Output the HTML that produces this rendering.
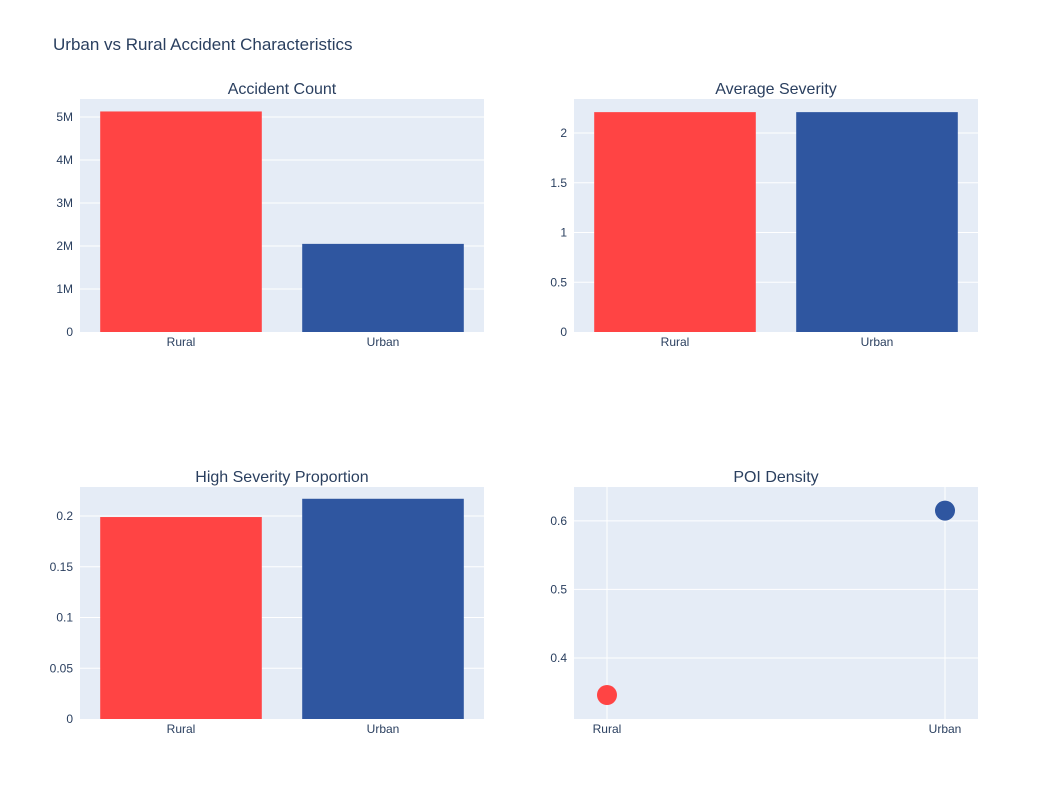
<!DOCTYPE html>
<html><head><meta charset="utf-8"><style>
body{margin:0;background:#fff;font-family:"Liberation Sans",Arial,sans-serif}
svg text{font-family:"Liberation Sans",Arial,sans-serif}
</style></head><body>
<svg id="chart" width="1058" height="800"></svg>
<script>
const categories=["Rural","Urban"];
const accidentCounts=[5130000,2050000];
const avgSeverity=[2.21,2.21];
const highSevProp=[0.199,0.217];
const poiDensity=[0.346,0.615];
const colors=["#ff4444","#2f56a0"];
const countTicks=[0,1e6,2e6,3e6,4e6,5e6];
const countTickLabels=["0","1M","2M","3M","4M","5M"];
const sevTicks=[0,0.5,1,1.5,2];
const sevTickLabels=["0","0.5","1","1.5","2"];
const propTicks=[0,0.05,0.1,0.15,0.2];
const propTickLabels=["0","0.05","0.1","0.15","0.2"];
const poiTicks=[0.4,0.5,0.6];
const poiTickLabels=["0.4","0.5","0.6"];

const svg=document.getElementById('chart');
const NS="http://www.w3.org/2000/svg";
function mk(tag,attrs,parent){const e=document.createElementNS(NS,tag);for(const k in attrs)e.setAttribute(k,attrs[k]);(parent||svg).appendChild(e);return e;}
const title=mk('text',{x:53,y:50,'font-size':17,fill:'#2a3f5f'});
title.textContent="Urban vs Rural Accident Characteristics";



function panel(name,px,py,pw,ph,ymin,ymax,ticks,labels,vals,kind,ttl){
  const g=mk('g',{});
  
  
  const bg=mk('rect',{x:px,y:py,width:pw,height:ph,fill:'#e5ecf6'},g);
  
  
  const ys=v=>py+ph-(v-ymin)/(ymax-ymin)*ph;
  let xs;
  if(kind==='bar'){xs=i=>px+pw*(i+0.5)/categories.length;}
  else{const lo=-0.0976,hi=1.0976;xs=i=>px+(i-lo)/(hi-lo)*pw;
    categories.forEach((c,i)=>{const l=mk('line',{x1:xs(i),x2:xs(i),y1:py,y2:py+ph,stroke:'#fff','stroke-width':1},g);
      
      });}
  ticks.forEach((t,i)=>{const y=ys(t);
    if(!(kind==='bar'&&t===0)){const l=mk('line',{x1:px,x2:px+pw,y1:y,y2:y,stroke:'#fff','stroke-width':1},g);
      
      }
    const tx=mk('text',{x:px-7,y:y+4,'font-size':12,fill:'#2a3f5f','text-anchor':'end'},g);
    tx.textContent=labels[i];
    
    });
  categories.forEach((c,i)=>{
    if(kind==='bar'){const bw=pw/categories.length*0.8;
      const r=mk('rect',{x:xs(i)-bw/2,y:ys(vals[i]),width:bw,height:ys(ymin)-ys(vals[i]),fill:colors[i]},g);
      
      }
    else{const p=mk('circle',{cx:xs(i),cy:ys(vals[i]),r:10,fill:colors[i]},g);
      
      }
    const tx=mk('text',{x:xs(i),y:py+ph+14,'font-size':12,fill:'#2a3f5f','text-anchor':'middle'},g);
    tx.textContent=c;
    
    });
  const t=mk('text',{x:px+pw/2,y:py-5,'font-size':16,fill:'#2a3f5f','text-anchor':'middle'},g);
  t.textContent=ttl;
  
  
}
panel('accident-count',80,99,404,233,0,5.42e6,countTicks,countTickLabels,accidentCounts,'bar','Accident Count');
panel('average-severity',574,99,404,233,0,2.342,sevTicks,sevTickLabels,avgSeverity,'bar','Average Severity');
panel('high-severity',80,487,404,232,0,0.2286,propTicks,propTickLabels,highSevProp,'bar','High Severity Proportion');
panel('poi-density',574,487,404,232,0.311,0.6494,poiTicks,poiTickLabels,poiDensity,'scatter','POI Density');
</script></body></html>
